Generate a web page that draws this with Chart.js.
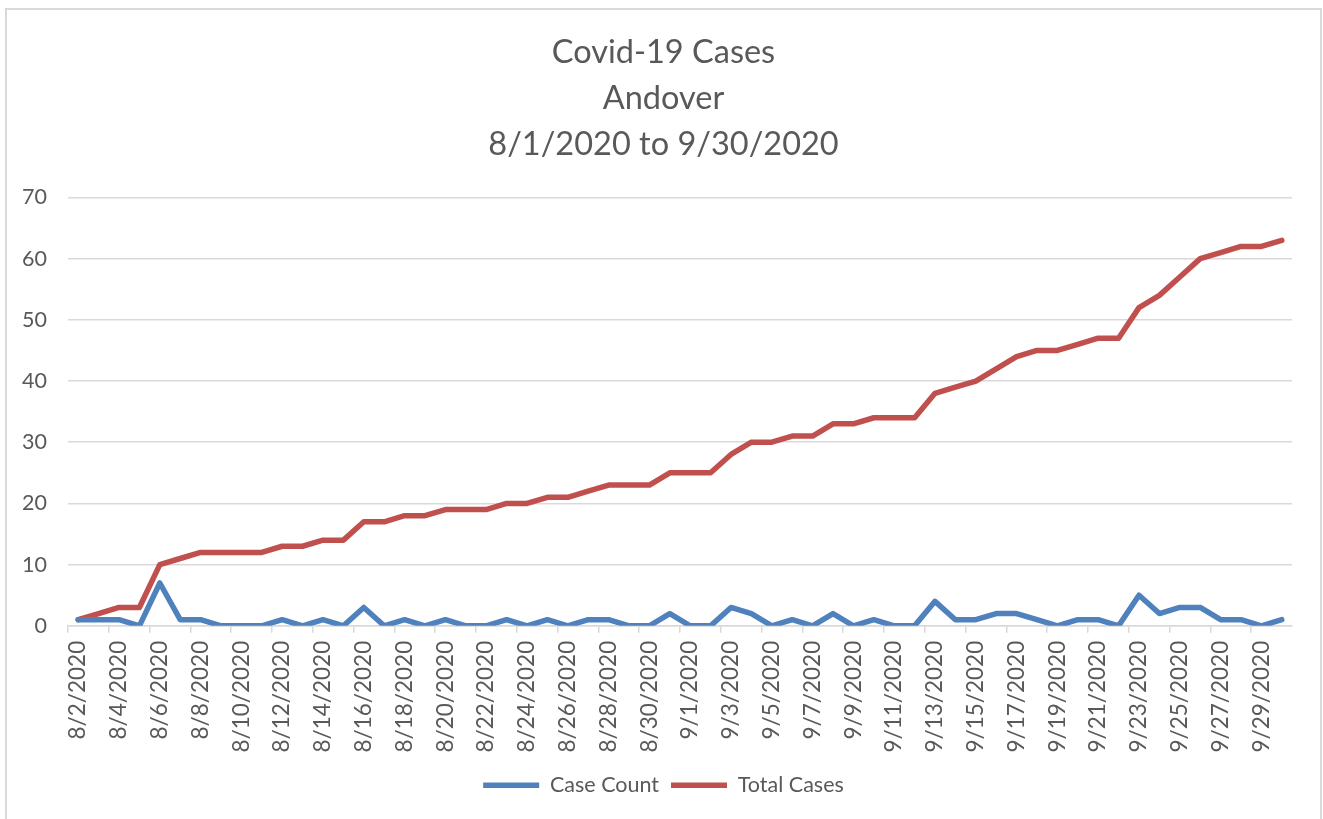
<!DOCTYPE html>
<html>
<head>
<meta charset="utf-8">
<script src="https://cdn.jsdelivr.net/npm/chart.js@4"></script>
<style>
  body { margin: 0; background: #fff; overflow: hidden; }
  #box {
    position: absolute; left: 5px; top: 8px;
    width: 1313px; height: 830px;
    border: 2px solid #d9d9d9; background: #fff;
  }
</style>
</head>
<body>
<div id="box"><canvas id="covidChart"></canvas></div>
<script>
// Dates, 8/2/2020 .. 9/30/2020
const dates = [
  "8/2/2020", "8/3/2020", "8/4/2020", "8/5/2020", "8/6/2020", "8/7/2020",
  "8/8/2020", "8/9/2020", "8/10/2020", "8/11/2020", "8/12/2020", "8/13/2020",
  "8/14/2020", "8/15/2020", "8/16/2020", "8/17/2020", "8/18/2020", "8/19/2020",
  "8/20/2020", "8/21/2020", "8/22/2020", "8/23/2020", "8/24/2020", "8/25/2020",
  "8/26/2020", "8/27/2020", "8/28/2020", "8/29/2020", "8/30/2020", "8/31/2020",
  "9/1/2020", "9/2/2020", "9/3/2020", "9/4/2020", "9/5/2020", "9/6/2020",
  "9/7/2020", "9/8/2020", "9/9/2020", "9/10/2020", "9/11/2020", "9/12/2020",
  "9/13/2020", "9/14/2020", "9/15/2020", "9/16/2020", "9/17/2020", "9/18/2020",
  "9/19/2020", "9/20/2020", "9/21/2020", "9/22/2020", "9/23/2020", "9/24/2020",
  "9/25/2020", "9/26/2020", "9/27/2020", "9/28/2020", "9/29/2020", "9/30/2020"
];

const caseCount = [
  1, 1, 1, 0, 7, 1, 1, 0, 0, 0, 1, 0, 1, 0, 3, 0, 1, 0, 1, 0,
  0, 1, 0, 1, 0, 1, 1, 0, 0, 2, 0, 0, 3, 2, 0, 1, 0, 2, 0, 1,
  0, 0, 4, 1, 1, 2, 2, 1, 0, 1, 1, 0, 5, 2, 3, 3, 1, 1, 0, 1
];

const totalCases = [
  1, 2, 3, 3, 10, 11, 12, 12, 12, 12, 13, 13, 14, 14, 17, 17, 18, 18, 19, 19,
  19, 20, 20, 21, 21, 22, 23, 23, 23, 25, 25, 25, 28, 30, 30, 31, 31, 33, 33, 34,
  34, 34, 38, 39, 40, 42, 44, 45, 45, 46, 47, 47, 52, 54, 57, 60, 61, 62, 62, 63
];

const titleLines = ["Covid-19 Cases", "Andover", "8/1/2020 to 9/30/2020"];

const FONT = "Lato, 'Open Sans', sans-serif";
const TEXT = "#595959";
const GRID = "#d9d9d9";

function lineSet(label, data, color) {
  return {
    label: label,
    data: data,
    borderColor: color,
    backgroundColor: color,
    borderWidth: 5.5,
    borderCapStyle: "round",
    borderJoinStyle: "round",
    pointRadius: 0,
    pointHoverRadius: 0,
    pointStyle: "line",
    tension: 0
  };
}

const ctx = document.getElementById("covidChart").getContext("2d");
new Chart(ctx, {
  type: "line",
  data: {
    labels: dates,
    datasets: [
      lineSet("Case Count", caseCount, "#4f81bd"),
      lineSet("Total Cases", totalCases, "#c0504d")
    ]
  },
  options: {
    responsive: true,
    maintainAspectRatio: false,
    animation: false,
    layout: { padding: { left: 0, right: 0, top: 0, bottom: 34 } },
    plugins: {
      title: {
        display: true,
        text: titleLines,
        color: TEXT,
        font: { family: FONT, size: 32.5, weight: "normal", lineHeight: 1.42 },
        padding: { top: 19, bottom: 30 }
      },
      legend: {
        position: "bottom",
        labels: {
          color: TEXT,
          font: { family: FONT, size: 21.5 },
          usePointStyle: true,
          pointStyleWidth: 56,
          padding: 12
        }
      },
      tooltip: { enabled: false }
    },
    scales: {
      x: {
        offset: true,
        afterFit: (scale) => { scale.height += 2; },
        grid: {
          offset: true,
          drawOnChartArea: false,
          tickLength: 7,
          color: (c) => (c.index % 2 === 0 ? GRID : "rgba(0,0,0,0)"),
          lineWidth: 1.5
        },
        border: { display: true, color: GRID, width: 1.5 },
        ticks: {
          autoSkip: false,
          maxRotation: 90,
          minRotation: 90,
          padding: 8,
          color: TEXT,
          font: { family: FONT, size: 22.5 },
          callback: function(val, i) { return i % 2 === 0 ? this.getLabelForValue(val) : ""; }
        }
      },
      y: {
        min: 0,
        max: 70,
        afterFit: (scale) => { scale.width = 61; },
        ticks: { stepSize: 10, padding: 21, color: TEXT, font: { family: FONT, size: 21.5 } },
        grid: { color: GRID, lineWidth: 1.5, drawTicks: false },
        border: { display: false }
      },
      // empty right-hand axis, only keeps the white margin on the right
      yRight: {
        position: "right",
        min: 0,
        max: 70,
        afterFit: (scale) => { scale.width = 28; },
        ticks: { display: false },
        grid: { display: false, drawTicks: false },
        border: { display: false }
      }
    }
  }
});
</script>
</body>
</html>
